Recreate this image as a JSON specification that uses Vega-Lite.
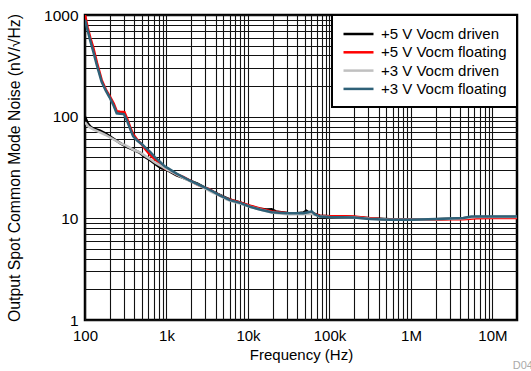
{
  "$schema": "https://vega.github.io/schema/vega-lite/v6.json",
  "autosize": "none",
  "width": 432,
  "height": 305,
  "padding": {"left": 85, "top": 15, "right": 14, "bottom": 51},
  "background": "white",
  "title": {"text": "D042", "orient": "bottom", "anchor": "end", "fontSize": 11, "fontWeight": "normal", "color": "#aaaaaa", "font": "Liberation Sans", "dx": 21, "offset": -2},
  "config": {
    "font": "Liberation Sans",
    "view": {"stroke": "#000000", "strokeWidth": 2.5},
    "axis": {"grid": true, "gridColor": "#111111", "gridWidth": 1.1, "gridOpacity": 1, "domain": false, "ticks": false, "labelFontSize": 15, "labelColor": "#000000", "titleFontSize": 15, "titleFontWeight": "normal", "titleColor": "#000000", "labelOverlap": false, "labelFlush": false}
  },
  "data": {"values": [
    {"s":"+5 V Vocm driven","f":100,"v":100},{"s":"+5 V Vocm driven","f":108,"v":86},{"s":"+5 V Vocm driven","f":118,"v":79},{"s":"+5 V Vocm driven","f":130,"v":76},{"s":"+5 V Vocm driven","f":153,"v":73},{"s":"+5 V Vocm driven","f":180,"v":68},{"s":"+5 V Vocm driven","f":222,"v":61},{"s":"+5 V Vocm driven","f":270,"v":55},{"s":"+5 V Vocm driven","f":324,"v":50.5},{"s":"+5 V Vocm driven","f":400,"v":47},{"s":"+5 V Vocm driven","f":473,"v":44},{"s":"+5 V Vocm driven","f":550,"v":40},{"s":"+5 V Vocm driven","f":626,"v":37.5},{"s":"+5 V Vocm driven","f":700,"v":35},{"s":"+5 V Vocm driven","f":793,"v":32.5},{"s":"+5 V Vocm driven","f":870,"v":31},{"s":"+5 V Vocm driven","f":950,"v":30.5},{"s":"+5 V Vocm driven","f":1050,"v":29.5},{"s":"+5 V Vocm driven","f":1330,"v":26.5},{"s":"+5 V Vocm driven","f":1600,"v":25},{"s":"+5 V Vocm driven","f":1940,"v":23.5},{"s":"+5 V Vocm driven","f":2400,"v":22},{"s":"+5 V Vocm driven","f":2800,"v":20.5},{"s":"+5 V Vocm driven","f":3750,"v":18.2},{"s":"+5 V Vocm driven","f":4500,"v":17},{"s":"+5 V Vocm driven","f":5500,"v":15.8},{"s":"+5 V Vocm driven","f":6500,"v":15},{"s":"+5 V Vocm driven","f":8000,"v":14.3},{"s":"+5 V Vocm driven","f":10600,"v":13.2},{"s":"+5 V Vocm driven","f":14000,"v":12.4},{"s":"+5 V Vocm driven","f":17000,"v":12.2},{"s":"+5 V Vocm driven","f":19500,"v":12.3},{"s":"+5 V Vocm driven","f":22000,"v":11.7},{"s":"+5 V Vocm driven","f":30000,"v":11.3},{"s":"+5 V Vocm driven","f":40000,"v":11.2},{"s":"+5 V Vocm driven","f":48000,"v":11.4},{"s":"+5 V Vocm driven","f":52000,"v":11.9},{"s":"+5 V Vocm driven","f":56000,"v":11.4},{"s":"+5 V Vocm driven","f":65000,"v":11.1},{"s":"+5 V Vocm driven","f":76000,"v":10.6},{"s":"+5 V Vocm driven","f":100000,"v":10.5},{"s":"+5 V Vocm driven","f":150000,"v":10.4},{"s":"+5 V Vocm driven","f":200000,"v":10.3},{"s":"+5 V Vocm driven","f":314000,"v":10},{"s":"+5 V Vocm driven","f":550000,"v":9.8},{"s":"+5 V Vocm driven","f":1000000,"v":9.8},{"s":"+5 V Vocm driven","f":2000000,"v":9.8},{"s":"+5 V Vocm driven","f":4400000,"v":10},{"s":"+5 V Vocm driven","f":6400000,"v":10.3},{"s":"+5 V Vocm driven","f":10000000,"v":10.3},{"s":"+5 V Vocm driven","f":20000000,"v":10.3},
    {"s":"+5 V Vocm floating","f":100,"v":1000},{"s":"+5 V Vocm floating","f":108,"v":750},{"s":"+5 V Vocm floating","f":116,"v":600},{"s":"+5 V Vocm floating","f":126,"v":480},{"s":"+5 V Vocm floating","f":140,"v":340},{"s":"+5 V Vocm floating","f":160,"v":230},{"s":"+5 V Vocm floating","f":180,"v":185},{"s":"+5 V Vocm floating","f":200,"v":160},{"s":"+5 V Vocm floating","f":225,"v":135},{"s":"+5 V Vocm floating","f":245,"v":113},{"s":"+5 V Vocm floating","f":270,"v":112},{"s":"+5 V Vocm floating","f":305,"v":111},{"s":"+5 V Vocm floating","f":330,"v":95},{"s":"+5 V Vocm floating","f":360,"v":78},{"s":"+5 V Vocm floating","f":390,"v":67},{"s":"+5 V Vocm floating","f":440,"v":59},{"s":"+5 V Vocm floating","f":500,"v":53},{"s":"+5 V Vocm floating","f":560,"v":47},{"s":"+5 V Vocm floating","f":630,"v":42},{"s":"+5 V Vocm floating","f":720,"v":38},{"s":"+5 V Vocm floating","f":830,"v":34.5},{"s":"+5 V Vocm floating","f":950,"v":31},{"s":"+5 V Vocm floating","f":1050,"v":30},{"s":"+5 V Vocm floating","f":1200,"v":28.5},{"s":"+5 V Vocm floating","f":1330,"v":27},{"s":"+5 V Vocm floating","f":1600,"v":25.5},{"s":"+5 V Vocm floating","f":1940,"v":23.5},{"s":"+5 V Vocm floating","f":2400,"v":21.5},{"s":"+5 V Vocm floating","f":2800,"v":20.3},{"s":"+5 V Vocm floating","f":3300,"v":19.5},{"s":"+5 V Vocm floating","f":3750,"v":18.3},{"s":"+5 V Vocm floating","f":4500,"v":16.8},{"s":"+5 V Vocm floating","f":5500,"v":15.6},{"s":"+5 V Vocm floating","f":6500,"v":15},{"s":"+5 V Vocm floating","f":8000,"v":14.3},{"s":"+5 V Vocm floating","f":10600,"v":13.3},{"s":"+5 V Vocm floating","f":14000,"v":12.5},{"s":"+5 V Vocm floating","f":19500,"v":11.7},{"s":"+5 V Vocm floating","f":30000,"v":11.3},{"s":"+5 V Vocm floating","f":40000,"v":11.1},{"s":"+5 V Vocm floating","f":48000,"v":11.2},{"s":"+5 V Vocm floating","f":60000,"v":11.3},{"s":"+5 V Vocm floating","f":76000,"v":10.6},{"s":"+5 V Vocm floating","f":100000,"v":10.5},{"s":"+5 V Vocm floating","f":150000,"v":10.5},{"s":"+5 V Vocm floating","f":200000,"v":10.4},{"s":"+5 V Vocm floating","f":314000,"v":10},{"s":"+5 V Vocm floating","f":550000,"v":9.7},{"s":"+5 V Vocm floating","f":1000000,"v":9.7},{"s":"+5 V Vocm floating","f":2000000,"v":9.7},{"s":"+5 V Vocm floating","f":3000000,"v":9.8},{"s":"+5 V Vocm floating","f":4400000,"v":9.8},{"s":"+5 V Vocm floating","f":6400000,"v":10},{"s":"+5 V Vocm floating","f":10000000,"v":10.1},{"s":"+5 V Vocm floating","f":20000000,"v":10.1},
    {"s":"+3 V Vocm driven","f":100,"v":88},{"s":"+3 V Vocm driven","f":110,"v":80},{"s":"+3 V Vocm driven","f":126,"v":75},{"s":"+3 V Vocm driven","f":153,"v":70},{"s":"+3 V Vocm driven","f":180,"v":66},{"s":"+3 V Vocm driven","f":222,"v":60},{"s":"+3 V Vocm driven","f":270,"v":55},{"s":"+3 V Vocm driven","f":324,"v":51.5},{"s":"+3 V Vocm driven","f":400,"v":47},{"s":"+3 V Vocm driven","f":473,"v":44.5},{"s":"+3 V Vocm driven","f":550,"v":41},{"s":"+3 V Vocm driven","f":626,"v":38.5},{"s":"+3 V Vocm driven","f":700,"v":36},{"s":"+3 V Vocm driven","f":793,"v":34},{"s":"+3 V Vocm driven","f":900,"v":32},{"s":"+3 V Vocm driven","f":1000,"v":30.5},{"s":"+3 V Vocm driven","f":1330,"v":27},{"s":"+3 V Vocm driven","f":1600,"v":25},{"s":"+3 V Vocm driven","f":1940,"v":23.2},{"s":"+3 V Vocm driven","f":2400,"v":21.5},{"s":"+3 V Vocm driven","f":2800,"v":20.2},{"s":"+3 V Vocm driven","f":3750,"v":17.8},{"s":"+3 V Vocm driven","f":4500,"v":16.8},{"s":"+3 V Vocm driven","f":5500,"v":15.3},{"s":"+3 V Vocm driven","f":6500,"v":14.6},{"s":"+3 V Vocm driven","f":8000,"v":14},{"s":"+3 V Vocm driven","f":10600,"v":13},{"s":"+3 V Vocm driven","f":14000,"v":12.2},{"s":"+3 V Vocm driven","f":19500,"v":11.4},{"s":"+3 V Vocm driven","f":30000,"v":11},{"s":"+3 V Vocm driven","f":48000,"v":11},{"s":"+3 V Vocm driven","f":60000,"v":11.1},{"s":"+3 V Vocm driven","f":76000,"v":10.4},{"s":"+3 V Vocm driven","f":100000,"v":10.3},{"s":"+3 V Vocm driven","f":200000,"v":10.2},{"s":"+3 V Vocm driven","f":314000,"v":9.9},{"s":"+3 V Vocm driven","f":550000,"v":9.7},{"s":"+3 V Vocm driven","f":1000000,"v":9.7},{"s":"+3 V Vocm driven","f":2000000,"v":9.8},{"s":"+3 V Vocm driven","f":4400000,"v":10},{"s":"+3 V Vocm driven","f":6400000,"v":10.3},{"s":"+3 V Vocm driven","f":20000000,"v":10.3},
    {"s":"+3 V Vocm floating","f":100,"v":900},{"s":"+3 V Vocm floating","f":108,"v":700},{"s":"+3 V Vocm floating","f":116,"v":560},{"s":"+3 V Vocm floating","f":126,"v":440},{"s":"+3 V Vocm floating","f":140,"v":320},{"s":"+3 V Vocm floating","f":160,"v":220},{"s":"+3 V Vocm floating","f":180,"v":180},{"s":"+3 V Vocm floating","f":200,"v":155},{"s":"+3 V Vocm floating","f":225,"v":128},{"s":"+3 V Vocm floating","f":245,"v":108},{"s":"+3 V Vocm floating","f":270,"v":107},{"s":"+3 V Vocm floating","f":300,"v":106},{"s":"+3 V Vocm floating","f":330,"v":90},{"s":"+3 V Vocm floating","f":360,"v":75},{"s":"+3 V Vocm floating","f":390,"v":64},{"s":"+3 V Vocm floating","f":440,"v":58},{"s":"+3 V Vocm floating","f":500,"v":53.5},{"s":"+3 V Vocm floating","f":560,"v":49},{"s":"+3 V Vocm floating","f":630,"v":45},{"s":"+3 V Vocm floating","f":720,"v":40},{"s":"+3 V Vocm floating","f":830,"v":36},{"s":"+3 V Vocm floating","f":950,"v":32.5},{"s":"+3 V Vocm floating","f":1050,"v":31},{"s":"+3 V Vocm floating","f":1200,"v":29},{"s":"+3 V Vocm floating","f":1330,"v":27.5},{"s":"+3 V Vocm floating","f":1600,"v":25.5},{"s":"+3 V Vocm floating","f":1940,"v":23.5},{"s":"+3 V Vocm floating","f":2400,"v":21.7},{"s":"+3 V Vocm floating","f":2800,"v":20.5},{"s":"+3 V Vocm floating","f":3300,"v":19.3},{"s":"+3 V Vocm floating","f":3750,"v":18.3},{"s":"+3 V Vocm floating","f":4500,"v":16.8},{"s":"+3 V Vocm floating","f":5500,"v":15.6},{"s":"+3 V Vocm floating","f":6000,"v":15.1},{"s":"+3 V Vocm floating","f":8000,"v":14.2},{"s":"+3 V Vocm floating","f":10600,"v":13},{"s":"+3 V Vocm floating","f":14000,"v":12.2},{"s":"+3 V Vocm floating","f":19500,"v":11.5},{"s":"+3 V Vocm floating","f":30000,"v":11.2},{"s":"+3 V Vocm floating","f":48000,"v":11.2},{"s":"+3 V Vocm floating","f":55000,"v":11.5},{"s":"+3 V Vocm floating","f":60500,"v":11.7},{"s":"+3 V Vocm floating","f":66000,"v":11},{"s":"+3 V Vocm floating","f":76000,"v":10.4},{"s":"+3 V Vocm floating","f":100000,"v":10.3},{"s":"+3 V Vocm floating","f":200000,"v":10.2},{"s":"+3 V Vocm floating","f":314000,"v":9.85},{"s":"+3 V Vocm floating","f":550000,"v":9.7},{"s":"+3 V Vocm floating","f":1000000,"v":9.7},{"s":"+3 V Vocm floating","f":2070000,"v":9.85},{"s":"+3 V Vocm floating","f":4380000,"v":10.1},{"s":"+3 V Vocm floating","f":5500000,"v":10.4},{"s":"+3 V Vocm floating","f":6400000,"v":10.4},{"s":"+3 V Vocm floating","f":20000000,"v":10.4}
  ]},
  "mark": {"type": "line", "strokeWidth": 2.5, "clip": true},
  "encoding": {
    "x": {"field": "f", "type": "quantitative", "title": "Frequency (Hz)",
      "scale": {"type": "log", "domain": [100, 20000000], "nice": false},
      "axis": {"values": [100,200,300,400,500,600,700,800,900,1000,2000,3000,4000,5000,6000,7000,8000,9000,10000,20000,30000,40000,50000,60000,70000,80000,90000,100000,200000,300000,400000,500000,600000,700000,800000,900000,1000000,2000000,3000000,4000000,5000000,6000000,7000000,8000000,9000000,10000000],
        "labelExpr": "datum.value==100?'100':datum.value==1000?'1k':datum.value==10000?'10k':datum.value==100000?'100k':datum.value==1000000?'1M':datum.value==10000000?'10M':''",
        "labelPadding": 8, "titlePadding": 4}},
    "y": {"field": "v", "type": "quantitative", "title": "Output Spot Common Mode Noise (nV/√Hz)",
      "scale": {"type": "log", "domain": [1, 1000], "nice": false},
      "axis": {"values": [1,2,3,4,5,6,7,8,9,10,20,30,40,50,60,70,80,90,100,200,300,400,500,600,700,800,900,1000],
        "labelExpr": "datum.value==1?'1':datum.value==10?'10':datum.value==100?'100':datum.value==1000?'1000':''",
        "labelPadding": 7, "labelFontSize": 15.5, "titlePadding": 21, "titleFontSize": 15.8}},
    "color": {"field": "s", "type": "nominal",
      "scale": {"domain": ["+5 V Vocm driven", "+5 V Vocm floating", "+3 V Vocm driven", "+3 V Vocm floating"], "range": ["#000000", "#ff0000", "#c0c0c0", "#2f6178"]},
      "legend": {"title": null, "orient": "top-right", "offset": 0, "fillColor": "#ffffff", "strokeColor": "#000000", "padding": 10, "symbolType": "M-1,0H3", "symbolSize": 225, "symbolStrokeWidth": 2.5, "labelFontSize": 15, "labelColor": "#000000", "labelOffset": 21, "rowPadding": 1.3,
        "encode": {"legend": {"update": {"strokeWidth": {"value": 2}}}}}
    }
  }
}
